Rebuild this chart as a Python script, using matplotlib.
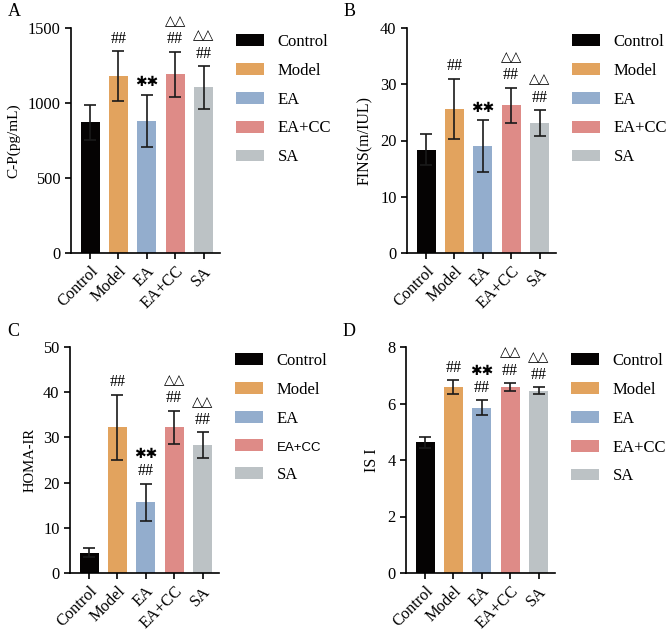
import matplotlib
matplotlib.use("Agg")
import matplotlib.pyplot as plt
from matplotlib.patches import Patch

plt.rcParams['font.family'] = ['Liberation Serif', 'DejaVu Sans']
plt.rcParams['font.size'] = 12

groups = ["Control", "Model", "EA", "EA+CC", "SA"]
colors = ["#050303", "#E2A35E", "#93ADCD", "#DE8B87", "#BCC2C5"]

cp_mean = [872, 1180, 881, 1192, 1104]
cp_err = [118, 165, 174, 150, 142]

fins_mean = [18.4, 25.6, 19.0, 26.3, 23.1]
fins_err = [2.8, 5.4, 4.6, 3.1, 2.3]

homa_mean = [4.5, 32.2, 15.7, 32.2, 28.3]
homa_err = [1.0, 7.2, 4.1, 3.7, 2.8]

isi_mean = [4.62, 6.57, 5.85, 6.59, 6.46]
isi_err = [0.20, 0.25, 0.27, 0.13, 0.11]

# significance marks per group: (hash, star, triangle)
sig_A = [("", "", ""), ("##", "", ""), ("", "**", ""), ("##", "", "△△"), ("##", "", "△△")]
sig_B = sig_A
sig_C = [("", "", ""), ("##", "", ""), ("##", "**", ""), ("##", "", "△△"), ("##", "", "△△")]
sig_D = sig_C

panels = [
    ("A", "C-P(pg/mL)", cp_mean, cp_err, sig_A, (0, 1500), [0, 500, 1000, 1500]),
    ("B", "FINS(m/IUL)", fins_mean, fins_err, sig_B, (0, 40), [0, 10, 20, 30, 40]),
    ("C", "HOMA-IR", homa_mean, homa_err, sig_C, (0, 50), [0, 10, 20, 30, 40, 50]),
    ("D", "IS I", isi_mean, isi_err, sig_D, (0, 8), [0, 2, 4, 6, 8]),
]
ylabel_sizes = [11, 11.5, 10.5, 11.5]

W, H = 669, 634
fig = plt.figure(figsize=(W / 100, H / 100), dpi=100)

# axes rectangles in pixels: left, top, right, bottom
rects = [(71, 28, 220, 253), (407, 28, 556, 253), (70, 347, 219, 573), (406, 347, 555, 573)]

for (letter, ylabel, means, errs, sigs, ylim, yticks), (l, t, r, b), ys in zip(panels, rects, ylabel_sizes):
    ax = fig.add_axes([l / W, 1 - b / H, (r - l) / W, (b - t) / H])
    x = list(range(len(groups)))
    ax.bar(x, means, width=0.67, color=colors, zorder=2)
    ax.errorbar(x, means, yerr=errs, fmt="none", ecolor="#1a1a1a", elinewidth=1.2,
                capsize=4, capthick=1.2, zorder=3)
    ax.set_xlim(-0.67, 4.58)
    ax.set_ylim(*ylim)
    ax.set_yticks(yticks)
    ax.set_xticks(x)
    ax.set_xticklabels(groups, rotation=45, ha="right", rotation_mode="anchor")
    ax.spines["top"].set_visible(False)
    ax.spines["right"].set_visible(False)
    ax.spines["left"].set_linewidth(1.2)
    ax.spines["bottom"].set_linewidth(1.2)
    ax.tick_params(axis="both", width=1.2, length=4, labelsize=11.8)
    ax.set_ylabel(ylabel, fontsize=ys, labelpad=5)

    for xi, m, e, (h, s, tri) in zip(x, means, errs, sigs):
        top = m + e
        off = 9
        if h:
            ax.annotate(h, (xi, top), xytext=(0, off), textcoords="offset points",
                        ha="center", va="center", fontsize=11.5)
            off += 12
        if s:
            ax.annotate("✱✱", (xi, top), xytext=(0, off), textcoords="offset points",
                        ha="center", va="center", fontsize=10,
                        family=["DejaVu Sans"], fontweight="bold")
            off += 12
        if tri:
            ax.annotate(tri, (xi, top), xytext=(0, off + 1), textcoords="offset points",
                        ha="center", va="center", fontsize=10,
                        family=["DejaVu Sans"])

    fig.text((l - 63) / W, 1 - (t - 16) / H, letter, fontsize=13, ha="left", va="center")

    handles = [Patch(facecolor=c, edgecolor="none") for c in colors]
    leg = ax.legend(handles, groups, loc="upper left",
                    bbox_to_anchor=((l + 165) / W, 1 - (t + 6) / H),
                    bbox_transform=fig.transFigure, frameon=False, fontsize=12,
                    handlelength=1.7, handleheight=0.7, handletextpad=0.8,
                    labelspacing=0.77, borderaxespad=0, borderpad=0)
    if letter == "C":
        leg.get_texts()[3].set_fontfamily(["Liberation Sans"])
        leg.get_texts()[3].set_fontsize(9.5)

fig.savefig("out.png", dpi=100)
